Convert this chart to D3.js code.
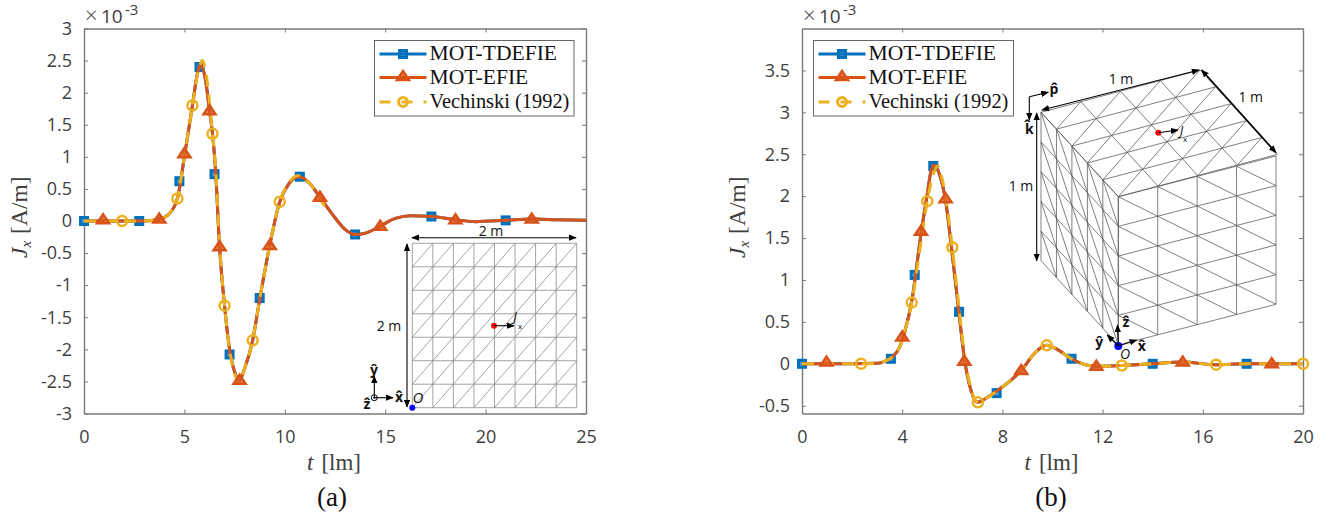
<!DOCTYPE html>
<html>
<head>
<meta charset="utf-8">
<script src="https://cdn.jsdelivr.net/npm/d3@7"></script>
<style>
  body { margin: 0; background: #fff; }
  .tick text { font-family: "Open Sans", sans-serif; font-size: 18px; fill: #404040; }
  .serif { font-family: "Liberation Serif", serif; }
  .sans { font-family: "Open Sans", sans-serif; }
</style>
</head>
<body>
<div id="chart"></div>
<script>
// Panel (a): solution curve, values in 1e-3 A/m
var leftCurveT = [0, 1, 2, 3, 3.75, 4.2, 4.65, 5, 5.4, 5.65, 5.8, 6.05, 6.25, 6.4, 6.55, 6.75, 7, 7.25, 7.5, 7.75, 8, 8.4, 8.75, 9.25, 9.75, 10.2, 10.7, 11.2, 11.75, 12.5, 13, 13.5, 14, 14.75, 15.5, 16.3, 17.3, 18.5, 19.5, 21, 22.3, 23.5, 25];
var leftCurveJ = [0, 0, 0, 0, 0.03, 0.1, 0.35, 1, 1.8, 2.3, 2.43, 2.2, 1.72, 1.36, 0.8, -0.4, -1.32, -2, -2.35, -2.48, -2.3, -1.86, -1.22, -0.38, 0.3, 0.58, 0.69, 0.6, 0.37, 0.05, -0.13, -0.21, -0.19, -0.08, 0.04, 0.08, 0.07, 0.02, -0.01, 0.01, 0.03, 0.02, 0.01];

// Panel (a): reference data curve, stops short of the others
var leftVechT = [0, 1, 1.9, 3, 3.75, 4.2, 4.65, 5, 5.4, 5.7, 5.9, 6.1, 6.4, 6.55, 6.75, 7, 7.25, 7.5, 7.78, 8, 8.4, 8.75, 9.25, 9.75, 10.2, 10.7, 11.2, 12];
var leftVechJ = [0, 0, 0, 0, 0.03, 0.1, 0.35, 1, 1.8, 2.35, 2.5, 2.25, 1.36, 0.85, -0.35, -1.32, -2, -2.38, -2.52, -2.3, -1.86, -1.22, -0.38, 0.3, 0.6, 0.71, 0.6, 0.22];

// Panel (a): marker positions
var leftSquareT = [0, 2.75, 4.75, 5.75, 6.5, 7.25, 8.75, 10.75, 13.5, 17.3, 21];
var leftSquareJ = [0, 0, 0.62, 2.4, 0.73, -2.08, -1.2, 0.69, -0.21, 0.07, 0.01];
var leftTriT = [0.95, 3.75, 5, 6.25, 6.75, 7.75, 9.25, 11.75, 14.75, 18.5, 22.3];
var leftTriJ = [0.02, 0.03, 1.05, 1.72, -0.4, -2.48, -0.38, 0.37, -0.08, 0.02, 0.03];
var leftCircT = [1.9, 4.65, 5.4, 6.4, 7, 8.4, 9.75];
var leftCircJ = [0, 0.35, 1.8, 1.36, -1.32, -1.86, 0.3];

// Panel (b): solution curve
var rightCurveT = [0, 1, 2, 3, 3.3, 3.6, 3.9, 4.1, 4.4, 4.75, 5, 5.15, 5.27, 5.5, 5.73, 6, 6.25, 6.5, 6.75, 7, 7.3, 7.8, 8.75, 9.3, 9.75, 10.2, 10.75, 11.3, 11.75, 12.75, 14, 15.2, 16.5, 17.75, 18.75, 20];
var rightCurveJ = [0, 0, 0, 0.005, 0.03, 0.08, 0.2, 0.38, 0.78, 1.55, 2.02, 2.3, 2.37, 2.25, 1.95, 1.3, 0.65, 0.03, -0.32, -0.46, -0.42, -0.32, -0.08, 0.13, 0.22, 0.17, 0.06, -0.01, -0.03, -0.02, 0, 0.02, -0.01, 0, 0, 0];

// Panel (b): reference data curve
var rightVechT = [0, 1, 2.36, 3, 3.3, 3.6, 3.9, 4.1, 4.38, 4.75, 5, 5.2, 5.42, 5.6, 5.8, 6, 6.25, 6.5, 6.75, 7.02, 7.3, 7.8, 8.75, 9.3, 9.77, 10.2, 10.75, 11.3, 11.75, 12.77, 14, 15.2, 16.53, 17.75, 18.75, 20];
var rightVechJ = [0, 0, 0, 0.005, 0.03, 0.08, 0.2, 0.38, 0.73, 1.45, 1.94, 2.22, 2.36, 2.2, 1.85, 1.39, 0.72, 0.08, -0.3, -0.46, -0.42, -0.32, -0.08, 0.13, 0.22, 0.17, 0.06, -0.01, -0.03, -0.02, 0, 0.02, -0.01, 0, 0, 0];

// Panel (b): marker positions
var rightSquareT = [0, 3.55, 4.5, 5.24, 6.27, 7.77, 10.76, 14, 17.75];
var rightSquareJ = [0, 0.06, 1.06, 2.36, 0.62, -0.35, 0.06, 0, 0];
var rightTriT = [0.98, 4, 4.75, 5.73, 6.48, 8.75, 11.75, 15.2, 18.75];
var rightTriJ = [0.02, 0.32, 1.58, 1.97, 0.03, -0.08, -0.03, 0.02, 0];
var rightCircT = [2.36, 4.38, 5, 6, 7.02, 9.77, 12.77, 16.53, 20];
var rightCircJ = [0, 0.73, 1.94, 1.39, -0.46, 0.22, -0.02, -0.01, 0];

// Ticks and labels
var leftXTicks = [0, 5, 10, 15, 20, 25];
var leftYTicks = [-3, -2.5, -2, -1.5, -1, -0.5, 0, 0.5, 1, 1.5, 2, 2.5, 3];
var rightXTicks = [0, 4, 8, 12, 16, 20];
var rightYTicks = [-0.5, 0, 0.5, 1, 1.5, 2, 2.5, 3, 3.5];
var legendLabels = ["MOT-TDEFIE", "MOT-EFIE", "Vechinski (1992)"];

var blue = "#0072BD", orange = "#D95319", yellow = "#EDB120";

var svg = d3.select("#chart")
    .append("svg")
    .attr("width", 1335)
    .attr("height", 518)
    .style("display", "block");

// Arrowhead
var defs = svg.append("defs");
["arrowEnd", "arrowStart"].forEach(function (id) {
    defs.append("marker")
        .attr("id", id)
        .attr("viewBox", "0 0 10 8")
        .attr("refX", id == "arrowEnd" ? 9 : 1)
        .attr("refY", 4)
        .attr("markerUnits", "userSpaceOnUse")
        .attr("markerWidth", 8)
        .attr("markerHeight", 6.5)
        .attr("orient", "auto")
        .append("path")
        .attr("d", id == "arrowEnd" ? "M0,0L10,4L0,8Z" : "M10,0L0,4L10,8Z")
        .attr("fill", "#000");
});

function arrow(x1, y1, x2, y2, both, width) {
    svg.append("line")
        .attr("x1", x1).attr("y1", y1).attr("x2", x2).attr("y2", y2)
        .attr("stroke", "#000")
        .attr("stroke-width", width || 1.1)
        .attr("marker-end", "url(#arrowEnd)")
        .attr("marker-start", both ? "url(#arrowStart)" : null);
}

function label(x, y, str, size, style) {
    return svg.append("text")
        .attr("class", "sans")
        .attr("x", x).attr("y", y)
        .attr("text-anchor", "middle")
        .attr("font-size", size)
        .attr("font-style", style || "normal")
        .attr("fill", "#111")
        .text(str);
}

var triPath = "M0,-5.5L6,3.5H-6Z";

function drawPanel(p) {
    var xScale = d3.scaleLinear().domain(p.xDomain).range([p.left, p.right]);
    var yScale = d3.scaleLinear().domain(p.yDomain).range([p.bottom, p.top]);

    var axisColor = "#7a7a7a";
    function styleAxis(g) {
        g.select(".domain").attr("stroke", axisColor).attr("stroke-width", 1.4);
        g.selectAll(".tick line").attr("stroke", axisColor).attr("stroke-width", 1);
    }

    svg.append("g")
        .attr("transform", "translate(0," + p.bottom + ")")
        .call(d3.axisBottom(xScale).tickValues(p.xTicks).tickSizeInner(-4).tickSizeOuter(0).tickPadding(17).tickFormat(String))
        .call(styleAxis);
    svg.append("g")
        .attr("transform", "translate(" + p.left + ",0)")
        .call(d3.axisLeft(yScale).tickValues(p.yTicks).tickSizeInner(-4).tickSizeOuter(0).tickPadding(12).tickFormat(String))
        .call(styleAxis);
    svg.append("g")
        .attr("transform", "translate(0," + p.top + ")")
        .call(d3.axisTop(xScale).tickValues(p.xTicks).tickSizeInner(-4).tickSizeOuter(0).tickFormat(""))
        .call(styleAxis);
    svg.append("g")
        .attr("transform", "translate(" + p.right + ",0)")
        .call(d3.axisRight(yScale).tickValues(p.yTicks).tickSizeInner(-4).tickSizeOuter(0).tickFormat(""))
        .call(styleAxis);

    // Exponent above the axis
    svg.append("text").attr("class", "sans").attr("x", p.left + 1).attr("y", 23)
        .attr("font-size", 22).attr("font-weight", 300).attr("fill", "#404040").text("\u00d7");
    svg.append("text").attr("class", "sans").attr("x", p.left + 17).attr("y", 23)
        .attr("font-size", 19).attr("fill", "#404040").text("10");
    svg.append("text").attr("class", "sans").attr("x", p.left + 41).attr("y", 15)
        .attr("font-size", 15).attr("fill", "#404040").text("-3");

    // Axis labels
    var xl = svg.append("text").attr("class", "serif")
        .attr("x", (p.left + p.right) / 2 - 1).attr("y", 470)
        .attr("text-anchor", "middle").attr("font-size", 23).attr("fill", "#404040");
    xl.append("tspan").attr("font-style", "italic").text("t");
    xl.append("tspan").attr("dx", 8).text("[lm]");

    var yl = svg.append("text").attr("class", "serif")
        .attr("transform", "translate(" + (p.left - 57) + ",258) rotate(-90)")
        .attr("font-size", 23.5).attr("fill", "#404040");
    yl.append("tspan").attr("font-style", "italic").text("J");
    yl.append("tspan").attr("font-style", "italic").attr("font-size", 15).attr("dy", 4).text("x");
    yl.append("tspan").attr("dy", -4).attr("dx", 7).text("[A/m]");

    svg.append("text").attr("class", "serif")
        .attr("x", p.captionX).attr("y", 506)
        .attr("text-anchor", "middle").attr("font-size", 27).attr("fill", "#111")
        .text(p.caption);

    // Series
    var line = d3.line()
        .x(function (d) { return xScale(d[0]); })
        .y(function (d) { return yScale(d[1]); })
        .curve(d3.curveMonotoneX);

    var curve = d3.zip(p.curveT, p.curveJ);

    svg.append("path").datum(curve).attr("d", line)
        .attr("fill", "none").attr("stroke", blue).attr("stroke-width", 3);
    svg.append("g").selectAll("rect").data(d3.zip(p.squareT, p.squareJ)).enter().append("rect")
        .attr("x", function (d) { return xScale(d[0]) - 3.5; })
        .attr("y", function (d) { return yScale(d[1]) - 3.5; })
        .attr("width", 7).attr("height", 7)
        .attr("fill", blue).attr("fill-opacity", 0.7)
        .attr("stroke", blue).attr("stroke-width", 3);

    svg.append("path").datum(curve).attr("d", line)
        .attr("fill", "none").attr("stroke", orange).attr("stroke-width", 3);
    svg.append("path").datum(d3.zip(p.vechT, p.vechJ)).attr("d", line)
        .attr("fill", "none").attr("stroke", yellow).attr("stroke-width", 3)
        .attr("stroke-dasharray", "12,8");
    svg.append("g").selectAll("path").data(d3.zip(p.triT, p.triJ)).enter().append("path")
        .attr("d", triPath)
        .attr("transform", function (d) { return "translate(" + xScale(d[0]) + "," + yScale(d[1]) + ")"; })
        .attr("fill", orange).attr("fill-opacity", 0.75)
        .attr("stroke", orange).attr("stroke-width", 2.5);
    svg.append("g").selectAll("circle").data(d3.zip(p.circT, p.circJ)).enter().append("circle")
        .attr("cx", function (d) { return xScale(d[0]); })
        .attr("cy", function (d) { return yScale(d[1]); })
        .attr("r", 5)
        .attr("fill", "none").attr("stroke", yellow).attr("stroke-width", 2.5);

    // Legend
    var lx = p.legendX;
    svg.append("rect")
        .attr("x", lx).attr("y", 40.5).attr("width", p.legendW).attr("height", 75.5)
        .attr("fill", "#fff").attr("stroke", "#666").attr("stroke-width", 1);
    var rowY = [54, 77.5, 102];
    var rowColors = [blue, orange, yellow];
    var rowSizes = [21.6, 21.6, 20.4];
    legendLabels.forEach(function (name, i) {
        svg.append("line")
            .attr("x1", lx + 5).attr("x2", lx + 52).attr("y1", rowY[i]).attr("y2", rowY[i])
            .attr("stroke", rowColors[i]).attr("stroke-width", 3)
            .attr("stroke-dasharray", i == 2 ? "11,11" : null);
        svg.append("text").attr("class", "serif")
            .attr("x", lx + 55).attr("y", rowY[i] + 6)
            .attr("font-size", rowSizes[i]).attr("fill", "#111").text(name);
    });
    var mx = lx + 28.5;
    svg.append("rect").attr("x", mx - 3.5).attr("y", rowY[0] - 3.5).attr("width", 7).attr("height", 7)
        .attr("fill", blue).attr("fill-opacity", 0.7).attr("stroke", blue).attr("stroke-width", 3);
    svg.append("path").attr("d", triPath).attr("transform", "translate(" + mx + "," + (rowY[1] - 1) + ")")
        .attr("fill", orange).attr("fill-opacity", 0.75).attr("stroke", orange).attr("stroke-width", 2.5);
    svg.append("circle").attr("cx", mx).attr("cy", rowY[2]).attr("r", 4.5)
        .attr("fill", "none").attr("stroke", yellow).attr("stroke-width", 3);
}

drawPanel({
    left: 84, right: 586, top: 28.5, bottom: 413.5,
    xDomain: [0, 25], yDomain: [-3, 3],
    xTicks: leftXTicks, yTicks: leftYTicks,
    curveT: leftCurveT, curveJ: leftCurveJ,
    vechT: leftVechT, vechJ: leftVechJ,
    squareT: leftSquareT, squareJ: leftSquareJ,
    triT: leftTriT, triJ: leftTriJ,
    circT: leftCircT, circJ: leftCircJ,
    legendX: 374.5, legendW: 199.5,
    caption: "(a)", captionX: 332
});

drawPanel({
    left: 802, right: 1303, top: 28.5, bottom: 413.5,
    xDomain: [0, 20], yDomain: [-0.593, 4],
    xTicks: rightXTicks, yTicks: rightYTicks,
    curveT: rightCurveT, curveJ: rightCurveJ,
    vechT: rightVechT, vechJ: rightVechJ,
    squareT: rightSquareT, squareJ: rightSquareJ,
    triT: rightTriT, triJ: rightTriJ,
    circT: rightCircT, circJ: rightCircJ,
    legendX: 813.5, legendW: 200,
    caption: "(b)", captionX: 1051
});

// Inset (a): planar mesh
function planeMesh(x0, x1, y0, y1, nx, ny) {
    var mx = d3.scaleLinear().domain([0, nx]).range([x0, x1]);
    var my = d3.scaleLinear().domain([0, ny]).range([y1, y0]);
    var g = svg.append("g").attr("stroke", "#8c8c8c").attr("stroke-width", 0.8);
    function seg(a, b, c, d) {
        g.append("line").attr("x1", a).attr("y1", b).attr("x2", c).attr("y2", d);
    }
    d3.range(nx + 1).forEach(function (i) { seg(mx(i), y0, mx(i), y1); });
    d3.range(ny + 1).forEach(function (j) { seg(x0, my(j), x1, my(j)); });
    d3.range(nx).forEach(function (i) {
        d3.range(ny).forEach(function (j) { seg(mx(i), my(j), mx(i + 1), my(j + 1)); });
    });
}
planeMesh(412.3, 576.7, 243.3, 407.7, 8, 7);

arrow(412, 237.7, 576, 237.7, true);
arrow(407, 244, 407, 407, true);
label(491, 236, "2 m", 14);
label(389, 331, "2 m", 14);
svg.append("circle").attr("cx", 494).attr("cy", 325.7).attr("r", 3).attr("fill", "#f00");
arrow(494, 325.7, 514, 325.7);
label(515, 321, "J", 13, "italic");
label(520, 329, "x", 8);
svg.append("circle").attr("cx", 412.3).attr("cy", 407.7).attr("r", 3).attr("fill", "#00f");
label(418, 403, "O", 15, "italic");
arrow(374.3, 397.7, 393, 397.7);
arrow(374.3, 397.7, 374.3, 376);
svg.append("circle").attr("cx", 374.3).attr("cy", 397.7).attr("r", 3).attr("fill", "none").attr("stroke", "#000");
svg.append("circle").attr("cx", 374.3).attr("cy", 397.7).attr("r", 1).attr("fill", "#000");
label(399, 402, "x\u0302", 14).attr("font-weight", "bold");
label(374, 375, "y\u0302", 14).attr("font-weight", "bold");
label(367, 409, "z\u0302", 14).attr("font-weight", "bold");

// Inset (b): cube mesh, one parallelogram grid per face
function faceMesh(origin, uEnd, vEnd, nu, nv, diag) {
    var g = svg.append("g").attr("stroke", "#555").attr("stroke-width", 0.75);
    function pt(i, j) {
        return [origin[0] + (uEnd[0] - origin[0]) * i / nu + (vEnd[0] - origin[0]) * j / nv,
                origin[1] + (uEnd[1] - origin[1]) * i / nu + (vEnd[1] - origin[1]) * j / nv];
    }
    function seg(a, b) {
        g.append("line").attr("x1", a[0]).attr("y1", a[1]).attr("x2", b[0]).attr("y2", b[1]);
    }
    d3.range(nu + 1).forEach(function (i) { seg(pt(i, 0), pt(i, nv)); });
    d3.range(nv + 1).forEach(function (j) { seg(pt(0, j), pt(nu, j)); });
    d3.range(nu).forEach(function (i) {
        d3.range(nv).forEach(function (j) {
            if (diag == "main") seg(pt(i, j), pt(i + 1, j + 1));
            else seg(pt(i + 1, j), pt(i, j + 1));
        });
    });
}
var cubeA = [1041, 112.3], cubeB = [1200, 70], cubeC = [1276, 156], cubeD = [1118.3, 196.7];
var cubeAb = [1041, 260.7], cubeDb = [1118.3, 345];
faceMesh(cubeA, cubeB, cubeD, 4, 5, "anti");
faceMesh(cubeA, cubeD, cubeAb, 5, 5, "main");
faceMesh(cubeD, cubeC, cubeDb, 4, 5, "main");

arrow(1042, 110, 1199, 70, true, 1.2);
arrow(1201.7, 70, 1276, 152.7, true, 1.6);
arrow(1036.7, 113, 1036.7, 260.7, true);
label(1121, 84, "1 m", 14);
label(1250.7, 102, "1 m", 14);
label(1021, 191, "1 m", 14);

arrow(1029.3, 96.7, 1048.3, 92.3);
arrow(1029.3, 96.7, 1029.3, 120);
label(1054, 94, "p\u0302", 14).attr("font-weight", "bold");
label(1029.3, 134, "k\u0302", 14).attr("font-weight", "bold");

svg.append("circle").attr("cx", 1158.3).attr("cy", 132.7).attr("r", 3).attr("fill", "#f00");
arrow(1158.3, 132.7, 1178, 130);
label(1181.5, 135, "J", 13, "italic");
label(1185, 142, "x", 8);

svg.append("circle").attr("cx", 1118.3).attr("cy", 346).attr("r", 4).attr("fill", "#00f");
arrow(1118.3, 346, 1117.5, 325);
arrow(1118.3, 346, 1107.3, 335);
arrow(1118.3, 346, 1136.7, 340);
label(1126, 327, "z\u0302", 14).attr("font-weight", "bold");
label(1099.3, 347, "y\u0302", 14).attr("font-weight", "bold");
label(1141.7, 351, "x\u0302", 14).attr("font-weight", "bold");
label(1125, 359, "O", 14, "italic");
</script>
</body>
</html>
